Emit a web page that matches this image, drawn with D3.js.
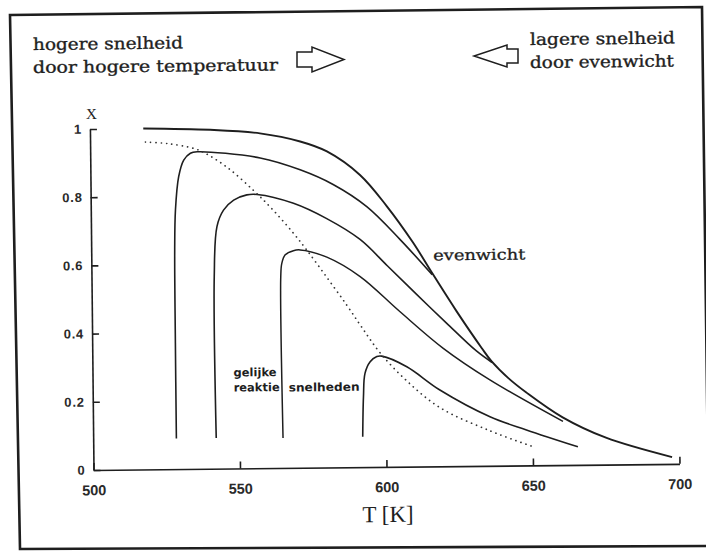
<!DOCTYPE html>
<html>
<head>
<meta charset="utf-8">
<script src="https://cdn.jsdelivr.net/npm/d3@7"></script>
<style>
  body { margin: 0; background: #fff; }
</style>
</head>
<body>
<div id="chart"></div>
<script>
// tick values
const xTicks = [500, 550, 600, 650, 700];
const yTicks = [0, 0.2, 0.4, 0.6, 0.8, 1];

// [T (K), X]
const evenwicht = [[518.2,1.0],[541,0.994],[558,0.982],[571.7,0.957],[580.8,0.927],[592,0.857],[601,0.765],[609.8,0.658],[616.5,0.564],[624.5,0.454],[632.9,0.346],[636.2,0.307],[642,0.256],[648,0.214],[660.3,0.14],[675,0.079],[697.5,0.02]];
const snelheid1 = [[528.4,0.09],[528.4,0.37],[528.5,0.643],[528.9,0.76],[530.1,0.857],[531.9,0.906],[534.2,0.926],[536.5,0.93],[558,0.91],[571.6,0.874],[582.8,0.83],[594.2,0.764],[605.4,0.667],[616.3,0.562]];
const snelheid2 = [[542,0.09],[541.9,0.563],[543,0.71],[545.3,0.758],[548.8,0.787],[553.3,0.802],[556.8,0.803],[569.2,0.776],[580.5,0.73],[591.8,0.668],[601,0.59],[610.9,0.505],[621,0.42],[631,0.338],[636.4,0.303]];
const snelheid3 = [[564.8,0.088],[564.6,0.561],[565,0.6],[566.2,0.625],[569,0.637],[571.3,0.639],[580.4,0.617],[591.7,0.559],[605,0.456],[619.8,0.346],[635.6,0.252],[660.4,0.128]];
const snelheid4 = [[592,0.089],[592.4,0.207],[593,0.275],[594.8,0.309],[597.1,0.324],[598.8,0.325],[607.3,0.293],[618.5,0.224],[635.5,0.144],[647.9,0.104],[665.4,0.053]];
const gelijkeSnelheden = [[518.9,0.96],[526.3,0.955],[535.3,0.94],[538.7,0.928],[546.6,0.884],[555.6,0.815],[562.4,0.755],[569.1,0.688],[573.6,0.638],[580.3,0.558],[587,0.476],[592.1,0.41],[598.2,0.335],[607.2,0.252],[618.5,0.172],[635.4,0.103],[650.1,0.055]];

const W = 706, H = 551;
const origin = {x: 93.5, y: 470};
const plotW = 586, plotH = 341;
const TILT = -0.6;   // the scan is a bit crooked
const INK = "#1e1e1e";

const svg = d3.select("#chart").append("svg")
    .attr("width", W)
    .attr("height", H)
    .style("background", "#fff");

// frame
svg.append("path")
    .attr("d", "M10,15 L702,7 L709,546 L20,549 Z")
    .attr("fill", "none")
    .attr("stroke", INK)
    .attr("stroke-width", 2.6);

// header texts
const header = [
    {t: "hogere snelheid", x: 33, y: 50, w: 150},
    {t: "door hogere temperatuur", x: 33, y: 73, w: 245},
    {t: "lagere snelheid", x: 530, y: 45, w: 145},
    {t: "door evenwicht", x: 530, y: 68, w: 144}
];
svg.selectAll(".header").data(header).enter()
    .append("text")
    .attr("class", "header")
    .attr("x", d => d.x)
    .attr("y", d => d.y)
    .attr("transform", d => "rotate(" + TILT + "," + d.x + "," + d.y + ")")
    .attr("textLength", d => d.w)
    .attr("lengthAdjust", "spacingAndGlyphs")
    .attr("font-family", "DejaVu Serif")
    .attr("font-size", 16.5)
    .attr("fill", INK)
    .attr("stroke", INK)
    .attr("stroke-width", 0.35)
    .text(d => d.t);

// hollow arrows
svg.append("path")
    .attr("d", "M297,52 L312,52 L312,47 L344,59.5 L312,72 L312,67 L297,67 Z")
    .attr("fill", "none").attr("stroke", INK).attr("stroke-width", 1.5);
svg.append("path")
    .attr("d", "M518,49 L507,49 L507,45 L474,56 L507,67 L507,63 L518,63 Z")
    .attr("fill", "none").attr("stroke", INK).attr("stroke-width", 1.5);

// plot area
const x = d3.scaleLinear().domain([500, 700]).range([0, plotW]);
const y = d3.scaleLinear().domain([0, 1]).range([0, -plotH]);

const plot = svg.append("g")
    .attr("transform", "translate(" + origin.x + "," + origin.y + ") rotate(" + TILT + ")");

const xAxis = plot.append("g")
    .attr("class", "xAxis")
    .call(d3.axisBottom(x)
        .tickValues(xTicks)
        .tickFormat(d => String(d))
        .tickSizeInner(-7)
        .tickSizeOuter(0)
        .tickPadding(15));

const yAxis = plot.append("g")
    .attr("class", "yAxis")
    .call(d3.axisLeft(y)
        .tickValues(yTicks)
        .tickFormat(d => String(d))
        .tickSizeInner(-7)
        .tickSizeOuter(0)
        .tickPadding(8));

plot.selectAll(".xAxis path, .yAxis path, .xAxis line, .yAxis line")
    .attr("stroke", INK)
    .attr("stroke-width", 1.6);
xAxis.selectAll("text")
    .attr("font-family", "Liberation Sans")
    .attr("font-weight", "bold")
    .attr("font-size", 14.5)
    .attr("fill", "#2a2a2a");
yAxis.selectAll("text")
    .attr("font-family", "Liberation Sans")
    .attr("font-weight", "bold")
    .attr("font-size", 13)
    .attr("letter-spacing", 0.8)
    .attr("fill", "#2a2a2a");

// axis titles
plot.append("text")
    .attr("x", 294)
    .attr("y", 55)
    .attr("text-anchor", "middle")
    .attr("font-family", "Liberation Serif")
    .attr("font-size", 23)
    .attr("fill", INK)
    .text("T [K]");
plot.append("text")
    .attr("x", 1.5)
    .attr("y", -351)
    .attr("text-anchor", "middle")
    .attr("font-family", "Liberation Serif")
    .attr("font-size", 15)
    .attr("fill", INK)
    .text("X");

// curves
const line = d3.line()
    .x(d => x(d[0]))
    .y(d => y(d[1]))
    .curve(d3.curveCatmullRom.alpha(0.5));

const curves = [
    {data: evenwicht, w: 1.9},
    {data: snelheid1, w: 1.6},
    {data: snelheid2, w: 1.6},
    {data: snelheid3, w: 1.5},
    {data: snelheid4, w: 1.6}
];
plot.selectAll(".curve").data(curves).enter()
    .append("path")
    .attr("class", "curve")
    .attr("d", d => line(d.data))
    .attr("fill", "none")
    .attr("stroke", INK)
    .attr("stroke-width", d => d.w);

plot.append("path")
    .attr("d", line(gelijkeSnelheden))
    .attr("fill", "none")
    .attr("stroke", "#333")
    .attr("stroke-width", 1.7)
    .attr("stroke-linecap", "round")
    .attr("stroke-dasharray", "0.1 5.2");

// curve labels
plot.append("text")
    .attr("x", 342)
    .attr("y", -206)
    .attr("textLength", 92)
    .attr("lengthAdjust", "spacingAndGlyphs")
    .attr("font-family", "DejaVu Serif")
    .attr("font-size", 15)
    .attr("fill", INK)
    .attr("stroke", INK)
    .attr("stroke-width", 0.3)
    .text("evenwicht");

const smallLabels = [
    {t: "gelijke", x: 141, y: -92, w: 43},
    {t: "reaktie", x: 141, y: -77, w: 46},
    {t: "snelheden", x: 196, y: -76.5, w: 71}
];
plot.selectAll(".small").data(smallLabels).enter()
    .append("text")
    .attr("class", "small")
    .attr("x", d => d.x)
    .attr("y", d => d.y)
    .attr("textLength", d => d.w)
    .attr("lengthAdjust", "spacingAndGlyphs")
    .attr("font-family", "DejaVu Sans")
    .attr("font-weight", "bold")
    .attr("font-size", 11.5)
    .attr("fill", INK)
    .text(d => d.t);
</script>
</body>
</html>
